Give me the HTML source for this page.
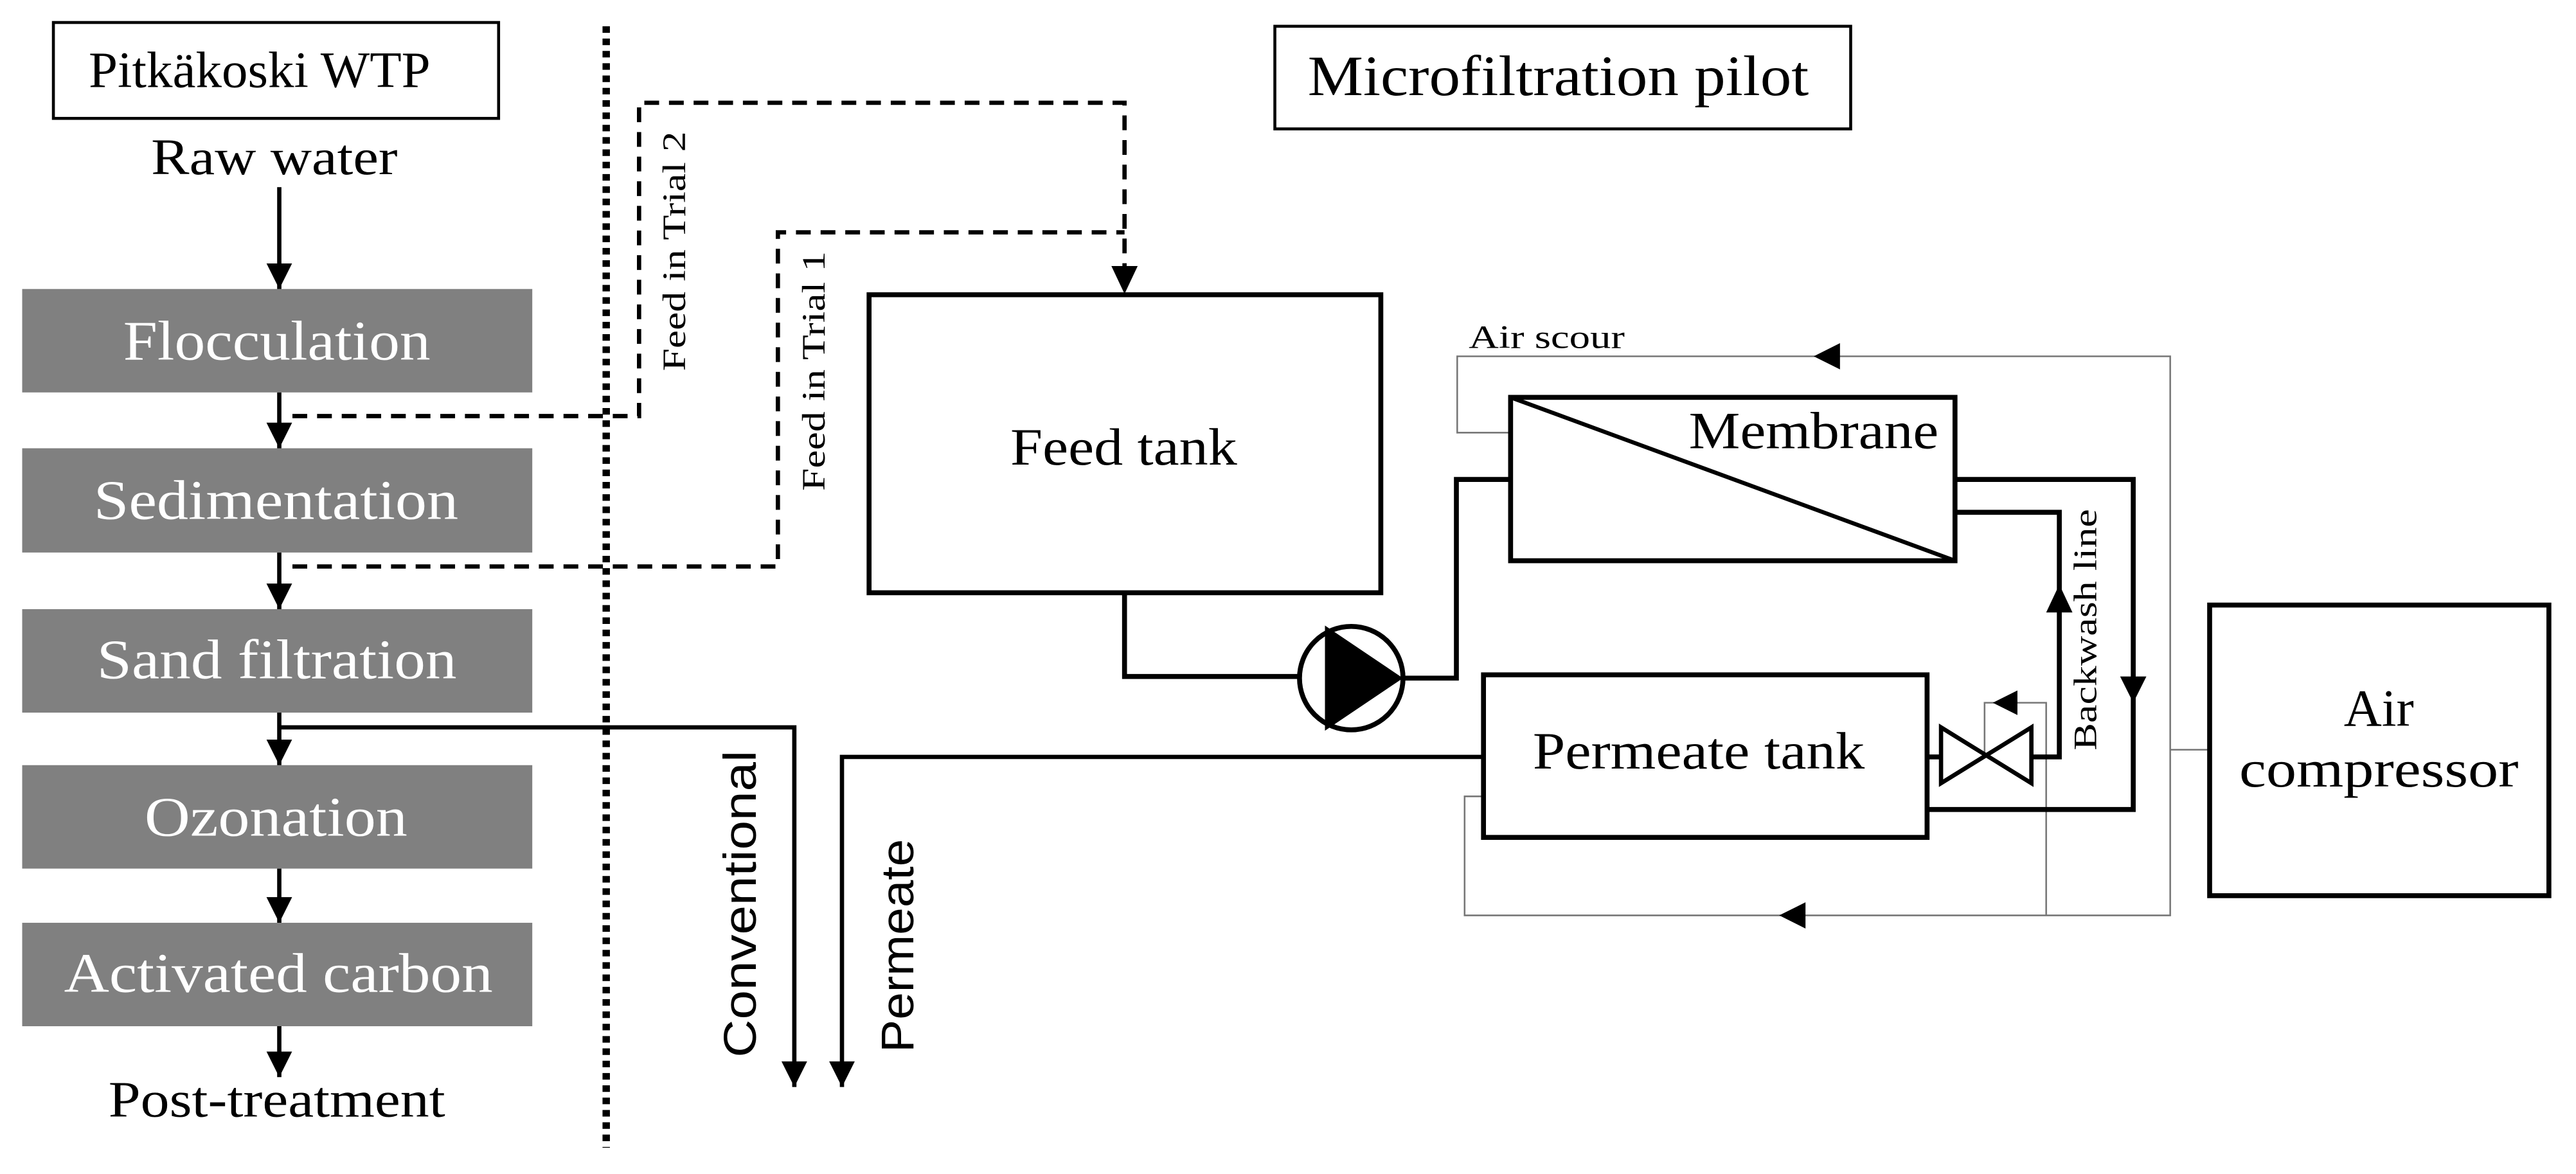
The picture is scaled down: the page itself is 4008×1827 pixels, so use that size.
<!DOCTYPE html>
<html><head><meta charset="utf-8"><style>
html,body{margin:0;padding:0;background:#fff;}
svg{display:block;}
text{font-family:"Liberation Serif",serif;fill:#000;}
.w{fill:#fff;font-size:34px;}
.s{font-family:"Liberation Sans",sans-serif;font-size:28px;}
</style></head><body>
<svg width="4008" height="1827" viewBox="0 0 1568 715" preserveAspectRatio="none" xmlns="http://www.w3.org/2000/svg">
<defs>
<marker id="a" viewBox="0 0 10 10" refX="10" refY="5" markerWidth="6" markerHeight="6" orient="auto" markerUnits="strokeWidth"><path d="M0,0L10,5L0,10z" fill="#000"/></marker>
</defs>
<rect width="1568" height="715" fill="#fff"/>
<!-- Left column -->
<rect x="32.5" y="13.7" width="271" height="58.4" fill="#fff" stroke="#000" stroke-width="1.8"/>
<text x="54" y="53" font-size="31" textLength="208" lengthAdjust="spacingAndGlyphs">Pitkäkoski WTP</text>
<text x="92" y="106" font-size="31" textLength="150" lengthAdjust="spacingAndGlyphs">Raw water</text>
<g fill="#808080">
<rect x="13.5" y="176" width="310.5" height="63"/>
<rect x="13.5" y="273" width="310.5" height="63.5"/>
<rect x="13.5" y="371" width="310.5" height="63"/>
<rect x="13.5" y="466" width="310.5" height="63"/>
<rect x="13.5" y="562" width="310.5" height="63"/>
</g>
<text class="w" x="75" y="219" textLength="187" lengthAdjust="spacingAndGlyphs">Flocculation</text>
<text class="w" x="57" y="316" textLength="222" lengthAdjust="spacingAndGlyphs">Sedimentation</text>
<text class="w" x="59" y="413" textLength="219" lengthAdjust="spacingAndGlyphs">Sand filtration</text>
<text class="w" x="88" y="509" textLength="160" lengthAdjust="spacingAndGlyphs">Ozonation</text>
<text class="w" x="39" y="604" textLength="261" lengthAdjust="spacingAndGlyphs">Activated carbon</text>
<text x="66" y="680" font-size="31" textLength="205" lengthAdjust="spacingAndGlyphs">Post-treatment</text>
<g stroke="#000" stroke-width="2.6" marker-end="url(#a)">
<line x1="170" y1="114" x2="170" y2="176"/>
<line x1="170" y1="239" x2="170" y2="273"/>
<line x1="170" y1="336.5" x2="170" y2="371"/>
<line x1="170" y1="434" x2="170" y2="466"/>
<line x1="170" y1="529" x2="170" y2="562"/>
<line x1="170" y1="625" x2="170" y2="656"/>
</g>
<line x1="369" y1="16" x2="369" y2="699" stroke="#000" stroke-width="4.5" stroke-dasharray="4 3.5"/>
<!-- Feed dashed lines -->
<g fill="none" stroke="#000" stroke-width="2.6" stroke-dasharray="9 6">
<polyline points="178,253.4 389,253.4 389,62.6 684.5,62.6 684.5,168"/>
<polyline points="178,345 473.5,345 473.5,141.5 684.5,141.5"/>
</g>
<path d="M676.5,162 L692.5,162 L684.5,179z" fill="#000"/>
<text transform="translate(417,226) rotate(-90)" font-size="20" textLength="146" lengthAdjust="spacingAndGlyphs">Feed in Trial 2</text>
<text transform="translate(502,299) rotate(-90)" font-size="20" textLength="146" lengthAdjust="spacingAndGlyphs">Feed in Trial 1</text>
<!-- Conventional / Permeate outputs -->
<g fill="none" stroke="#000" stroke-width="2.6">
<polyline points="170,443 483.5,443 483.5,662" marker-end="url(#a)"/>
<polyline points="903,461 512.5,461 512.5,662" marker-end="url(#a)"/>
</g>
<text class="s" transform="translate(460,644) rotate(-90)" textLength="187" lengthAdjust="spacingAndGlyphs">Conventional</text>
<text class="s" transform="translate(556,641) rotate(-90)" textLength="130" lengthAdjust="spacingAndGlyphs">Permeate</text>
<!-- Microfiltration -->
<rect x="776" y="16" width="350.5" height="62.5" fill="#fff" stroke="#000" stroke-width="1.8"/>
<text x="796" y="58" font-size="35" textLength="305" lengthAdjust="spacingAndGlyphs">Microfiltration pilot</text>
<!-- thin gray air lines -->
<g fill="none" stroke="#777" stroke-width="1">
<polyline points="919.5,263.5 887,263.5 887,217 1321,217 1321,557.5 891.5,557.5 891.5,485 903,485"/>
<line x1="1321" y1="456.6" x2="1345" y2="456.6"/>
<polyline points="1208,458 1208,428 1245.5,428 1245.5,557.5"/>
</g>
<path d="M1104,217 L1120,209 L1120,225z" fill="#000"/>
<path d="M1083,557.5 L1099,549.5 L1099,565.5z" fill="#000"/>
<path d="M1213,428 L1228,420.5 L1228,435.5z" fill="#000"/>
<text x="894" y="212" font-size="20" textLength="95" lengthAdjust="spacingAndGlyphs">Air scour</text>
<!-- Feed tank -->
<rect x="529" y="179.5" width="311.5" height="181.5" fill="#fff" stroke="#000" stroke-width="3"/>
<text x="615" y="283" font-size="32" textLength="138" lengthAdjust="spacingAndGlyphs">Feed tank</text>
<g fill="none" stroke="#000" stroke-width="3">
<polyline points="684.5,361 684.5,412 790,412"/>
<polyline points="854,413 886.5,413 886.5,292 919.5,292"/>
<circle cx="822.5" cy="413" r="31.5" fill="#fff"/>
</g>
<path d="M806.5,381 L854,413 L806.5,445z" fill="#000"/>
<!-- Membrane -->
<rect x="919.5" y="242" width="270.5" height="99.5" fill="#fff" stroke="#000" stroke-width="3"/>
<line x1="919.5" y1="242" x2="1190" y2="341.5" stroke="#000" stroke-width="2.5"/>
<text x="1028" y="273" font-size="32" textLength="152" lengthAdjust="spacingAndGlyphs">Membrane</text>
<g fill="none" stroke="#000" stroke-width="3">
<polyline points="1190,292 1298.5,292 1298.5,493 1173,493"/>
<polyline points="1190,312 1253.5,312 1253.5,461 1236.5,461"/>
<line x1="1173" y1="461" x2="1181.5" y2="461"/>
</g>
<path d="M1290.5,412 L1306.5,412 L1298.5,428z" fill="#000"/>
<path d="M1245.5,373 L1261.5,373 L1253.5,356z" fill="#000"/>
<text transform="translate(1276,457) rotate(-90)" font-size="20" textLength="147" lengthAdjust="spacingAndGlyphs">Backwash line</text>
<!-- valve -->
<path d="M1181.5,443 L1236.5,477 L1236.5,443 L1181.5,477z" fill="#fff" stroke="#000" stroke-width="2.6"/>
<!-- Permeate tank -->
<rect x="903" y="411" width="270" height="99" fill="#fff" stroke="#000" stroke-width="3"/>
<text x="933" y="468" font-size="32" textLength="202" lengthAdjust="spacingAndGlyphs">Permeate tank</text>
<!-- Air compressor -->
<rect x="1345" y="368.5" width="206.5" height="177" fill="#fff" stroke="#000" stroke-width="3"/>
<text x="1448" y="442" font-size="32" text-anchor="middle">Air</text>
<text x="1363" y="479" font-size="32" textLength="170" lengthAdjust="spacingAndGlyphs">compressor</text>
</svg>
</body></html>
